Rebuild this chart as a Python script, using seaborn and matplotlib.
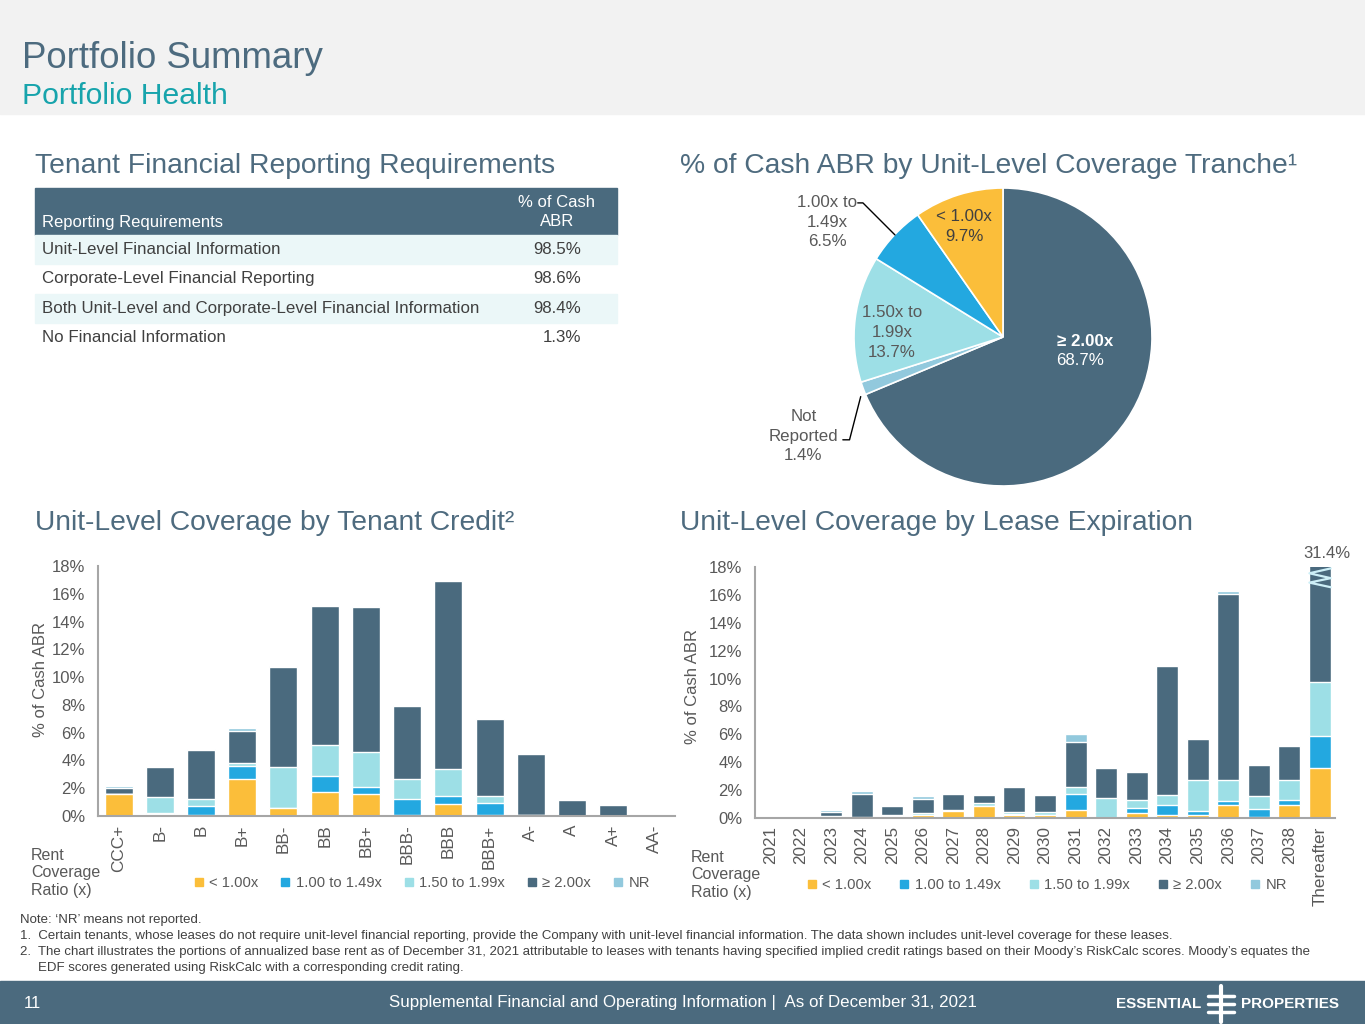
import matplotlib
matplotlib.use("Agg")
import matplotlib.pyplot as plt
from matplotlib.lines import Line2D
from matplotlib.patches import Rectangle
import seaborn as sns
import numpy as np

sns.set_style("white")
plt.rcParams["font.family"] = ["Liberation Sans", "DejaVu Sans"]

SLATE = "#4A6A7E"
YELLOW = "#FBBE3A"
BLUE = "#23A8E0"
TEAL = "#9DDFE6"
NRBLUE = "#92C9DD"
TXT = "#595959"
AXIS = "#A6A6A6"

# ---- data ----
req_labels = [
    "Unit-Level Financial Information",
    "Corporate-Level Financial Reporting",
    "Both Unit-Level and Corporate-Level Financial Information",
    "No Financial Information",
]
req_values = ["98.5%", "98.6%", "98.4%", "1.3%"]

pie_labels = ["≥ 2.00x", "Not\nReported", "1.50x to\n1.99x", "1.00x to\n1.49x", "< 1.00x"]
pie_values = [68.7, 1.4, 13.7, 6.5, 9.7]
pie_colors = [SLATE, NRBLUE, TEAL, BLUE, YELLOW]

tranches = ["< 1.00x", "1.00 to 1.49x", "1.50 to 1.99x", "≥ 2.00x", "NR"]
tranche_colors = [YELLOW, BLUE, TEAL, SLATE, NRBLUE]

credit_cats = ["CCC+", "B-", "B", "B+", "BB-", "BB", "BB+", "BBB-", "BBB", "BBB+",
               "A-", "A", "A+", "AA-"]
credit_lt100 = [1.55, 0.15, 0.1, 2.7, 0.6, 1.7, 1.6, 0.05, 0.85, 0.05, 0, 0, 0, 0]
credit_100_149 = [0, 0.1, 0.6, 0.9, 0, 1.2, 0.5, 1.15, 0.6, 0.9, 0.05, 0, 0, 0]
credit_150_199 = [0.05, 1.1, 0.55, 0.2, 2.9, 2.2, 2.5, 1.45, 1.95, 0.5, 0, 0, 0, 0]
credit_ge200 = [0.45, 2.15, 3.5, 2.35, 7.2, 10.0, 10.45, 5.3, 13.55, 5.5, 4.45, 1.15, 0.8, 0]
credit_nr = [0.1, 0, 0.05, 0.2, 0.1, 0, 0, 0.05, 0, 0.05, 0, 0, 0, 0]

years = ["2021", "2022", "2023", "2024", "2025", "2026", "2027", "2028", "2029", "2030",
         "2031", "2032", "2033", "2034", "2035", "2036", "2037", "2038", "Thereafter"]
lease_lt100 = [0, 0, 0, 0, 0.15, 0.25, 0.5, 0.85, 0.2, 0.2, 0.55, 0, 0.35, 0.25, 0.25,
               0.9, 0.1, 0.9, 3.6]
lease_100_149 = [0, 0, 0, 0, 0, 0, 0, 0, 0.1, 0, 1.15, 0, 0.4, 0.7, 0.25, 0.3, 0.55,
                 0.4, 2.3]
lease_150_199 = [0, 0, 0.15, 0.05, 0.05, 0.1, 0.05, 0.25, 0.1, 0.2, 0.55, 1.45, 0.55,
                 0.7, 2.25, 1.55, 0.9, 1.45, 3.85]
lease_ge200 = [0, 0, 0.25, 1.7, 0.65, 1.0, 1.2, 0.55, 1.85, 1.25, 3.2, 2.15, 2.0, 9.25,
               2.95, 13.3, 2.25, 2.4, 21.65]
lease_nr = [0, 0.1, 0.15, 0.2, 0, 0.2, 0, 0, 0, 0, 0.6, 0, 0, 0, 0, 0.2, 0, 0, 0]

W, H = 1365, 1024


def fx(px):
    return px / W


def fy(py):
    return 1 - py / H


fig = plt.figure(figsize=(W / 100, H / 100), dpi=100)
fig.patch.set_facecolor("white")

# header / footer bands
fig.patches.append(Rectangle((0, fy(114)), 1, 114 / H, transform=fig.transFigure,
                             color="#F2F2F2", zorder=0))
fig.patches.append(Rectangle((0, 0), 1, 43 / H, transform=fig.transFigure,
                             color="#4B6A7E", zorder=0))
fig.text(fx(22), fy(68), "Portfolio Summary", fontsize=26.4, color="#4D6B7F", va="baseline")
fig.text(fx(22), fy(104), "Portfolio Health", fontsize=21.7, color="#17A4AC", va="baseline")

for x0, y0, s in [(35, 173, "Tenant Financial Reporting Requirements"),
                  (680, 173, "% of Cash ABR by Unit-Level Coverage Tranche¹"),
                  (35, 530, "Unit-Level Coverage by Tenant Credit²"),
                  (680, 530, "Unit-Level Coverage by Lease Expiration")]:
    fig.text(fx(x0), fy(y0), s, fontsize=20.3, color="#4E6B7F", va="baseline")

# ---- table ----
fig.patches.append(Rectangle((fx(35), fy(235)), fx(617) - fx(35), 47 / H,
                             transform=fig.transFigure, color=SLATE, zorder=1))
fig.text(fx(42), fy(222), "Reporting Requirements", fontsize=12, color="white", va="center")
fig.text(fx(557), fy(212), "% of Cash\nABR", fontsize=12, color="white", va="center",
         ha="center", linespacing=1.3)
row_h = 29.3
for i, (lab, val) in enumerate(zip(req_labels, req_values)):
    top = 235 + i * row_h
    if i % 2 == 0:
        fig.patches.append(Rectangle((fx(35), fy(top + row_h)), fx(617) - fx(35), row_h / H,
                                     transform=fig.transFigure, color="#EBF7F8", zorder=1))
    fig.text(fx(42), fy(top + row_h / 2), lab, fontsize=12.2, color="#404040", va="center")
    fig.text(fx(581), fy(top + row_h / 2), val, fontsize=12.2, color="#404040", va="center",
             ha="right")

# ---- pie ----
r_px = 149
side = r_px * 2.5
axp = fig.add_axes([fx(1003 - side / 2), fy(337 + side / 2), side / W, side / H])
axp.pie(pie_values, colors=pie_colors, startangle=90, counterclock=False,
        wedgeprops=dict(edgecolor="white", linewidth=1.2))
axp.set_xlim(-1.25, 1.25)
axp.set_ylim(-1.25, 1.25)
axp.set_aspect("equal")
axp.axis("off")

pct = [f"{v:.1f}%" for v in pie_values]
lab_kw = dict(fontsize=12.2, ha="center", va="center", linespacing=1.38)
axp.text(0.55, -0.03, pie_labels[0], color="white", fontweight="bold", **lab_kw)
axp.text(0.52, -0.16, pct[0], color="white", **lab_kw)
axp.text(-0.26, 0.74, f"{pie_labels[4]}\n{pct[4]}", color="#404040", **lab_kw)
axp.text(-0.745, 0.03, f"{pie_labels[2]}\n{pct[2]}", color=TXT, **lab_kw)
axp.text(-1.18, 0.77, f"{pie_labels[3]}\n{pct[3]}", color=TXT, **lab_kw)
axp.text(-1.34, -0.665, f"{pie_labels[1]}\n{pct[1]}", color=TXT, **lab_kw)
axp.plot([-0.975, -0.94, -0.725], [0.90, 0.90, 0.685], color="black", lw=1, clip_on=False)
axp.plot([-1.075, -1.03, -0.955], [-0.69, -0.69, -0.40], color="black", lw=1, clip_on=False)


# ---- stacked bars ----
def stacked_bars(ax, cats, layers, width):
    cum = np.cumsum(np.array(layers, dtype=float), axis=0)
    for k in range(len(layers) - 1, -1, -1):
        sns.barplot(x=cats, y=cum[k], color=tranche_colors[k], width=width, saturation=1,
                    edgecolor="white", linewidth=1.0, errorbar=None, ax=ax)
    return cum[-1]


def style_axes(ax, label_x, label_y):
    ax.set_ylim(0, 18)
    ax.set_yticks(range(0, 19, 2))
    ax.set_yticklabels([f"{t}%" for t in range(0, 19, 2)], fontsize=12, color=TXT)
    ax.tick_params(axis="x", labelrotation=90, labelsize=12.3, labelcolor=TXT, length=0, pad=6)
    ax.tick_params(axis="y", length=0, pad=9)
    for side_ in ["top", "right"]:
        ax.spines[side_].set_visible(False)
    for side_ in ["left", "bottom"]:
        ax.spines[side_].set_color(AXIS)
        ax.spines[side_].set_linewidth(1.5)
    ax.set_xlabel("")
    ax.set_ylabel("% of Cash ABR", fontsize=12, color=TXT)
    ax.yaxis.set_label_coords(label_x, label_y)
    ax.set_facecolor("none")


ax1 = fig.add_axes([fx(98), fy(816), fx(675) - fx(98), (816 - 566) / H])
stacked_bars(ax1, credit_cats,
             [credit_lt100, credit_100_149, credit_150_199, credit_ge200, credit_nr], 0.68)
ax1.set_xlim(-0.5, len(credit_cats) - 0.5)
style_axes(ax1, -0.087, 0.545)

ax2 = fig.add_axes([fx(755), fy(818), fx(1335) - fx(755), (818 - 567) / H])
totals = stacked_bars(ax2, years,
                      [lease_lt100, lease_100_149, lease_150_199, lease_ge200, lease_nr], 0.72)
ax2.set_xlim(-0.5, len(years) - 0.5)
style_axes(ax2, -0.095, 0.525)

# axis break on the clipped last bar
last = len(years) - 1
zx = last + np.array([0.36, -0.34, 0.36, -0.34, 0.36])
ax2.plot(zx, [17.9, 17.55, 17.2, 16.88, 16.55], color="#CDEFF7", lw=1.6,
         clip_on=False, zorder=5)
ax2.text(last + 0.25, 18.4, f"{totals[last]:.1f}%", fontsize=12, color=TXT,
         ha="center", va="bottom")

# legends
handles = [Line2D([], [], marker="s", linestyle="", color=c, markersize=5.5)
           for c in tranche_colors]
for lx, ly, cs in [(195, 883, 1.6), (808, 885, 2.0)]:
    fig.legend(handles, tranches, loc="center left", bbox_to_anchor=(fx(lx), fy(ly)),
               ncol=5, frameon=False, fontsize=10.6, handlelength=0.5, handletextpad=0.45,
               columnspacing=cs, labelcolor=TXT, borderaxespad=0, borderpad=0)
fig.text(fx(31), fy(873), "Rent\nCoverage\nRatio (x)", fontsize=11.5, color=TXT,
         va="center", linespacing=1.25)
fig.text(fx(691), fy(875), "Rent\nCoverage\nRatio (x)", fontsize=11.5, color=TXT,
         va="center", linespacing=1.25)

# footnotes
notes = [
    (20, "Note: \u2018NR\u2019 means not reported."),
    (20, "1.  Certain tenants, whose leases do not require unit-level financial reporting, "
         "provide the Company with unit-level financial information. The data shown includes "
         "unit-level coverage for these leases."),
    (20, "2.  The chart illustrates the portions of annualized base rent as of December 31, "
         "2021 attributable to leases with tenants having specified implied credit ratings "
         "based on their Moody\u2019s RiskCalc scores. Moody\u2019s equates the"),
    (38, "EDF scores generated using RiskCalc with a corresponding credit rating."),
]
for i, (nx, s) in enumerate(notes):
    fig.text(fx(nx), fy(920 + i * 16), s, fontsize=9.5, color="#404040", va="center")

# footer
fig.text(fx(24), fy(1004), "11", fontsize=12, color="white", va="center")
fig.text(fx(683), fy(1003), "Supplemental Financial and Operating Information |  As of December 31, 2021",
         fontsize=12.2, color="white", va="center", ha="center")
fig.text(fx(1201), fy(1004), "ESSENTIAL", fontsize=11, color="white", va="center",
         ha="right", fontweight="bold")
fig.text(fx(1241), fy(1004), "PROPERTIES", fontsize=11, color="white", va="center",
         ha="left", fontweight="bold")
lx0, lx1, lxm = fx(1208), fx(1234), fx(1221)
fig.add_artist(Line2D([lxm, lxm], [fy(986), fy(1022)], color="white", lw=3))
for yy in [996, 1004, 1012]:
    fig.add_artist(Line2D([lx0, lx1], [fy(yy), fy(yy)], color="white", lw=2.5))

fig.savefig("out.png", dpi=100)
